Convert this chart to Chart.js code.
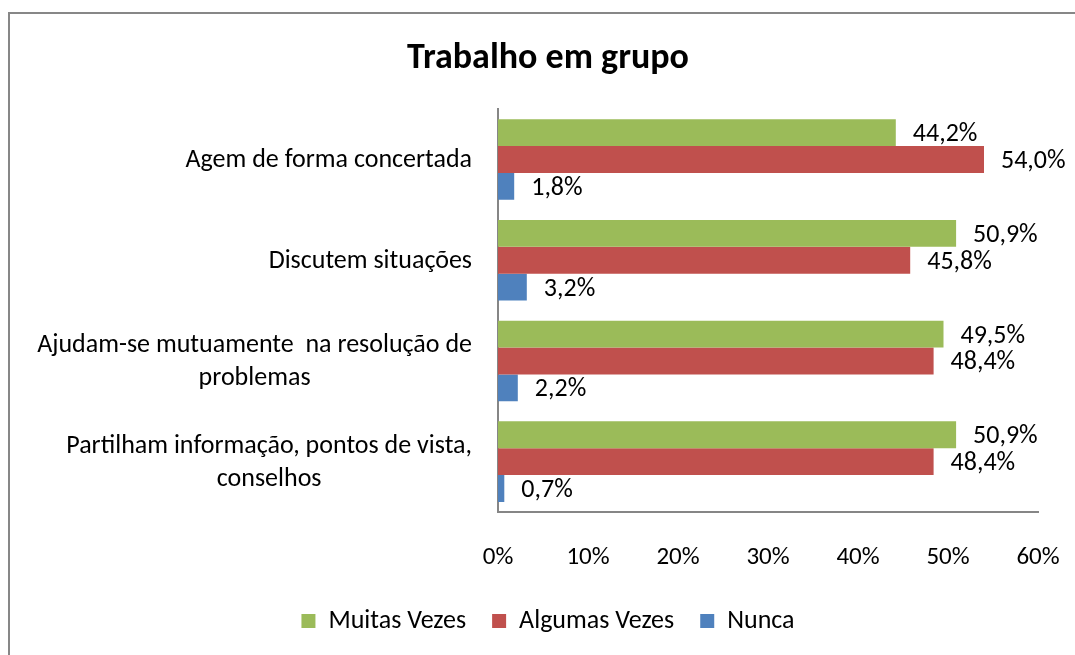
<!DOCTYPE html>
<html lang="pt">
<head>
  <meta charset="UTF-8">
  <title>Trabalho em grupo</title>
  <script src="https://cdn.jsdelivr.net/npm/chart.js"></script>
  <style>
    body { margin: 0; background: #fff; overflow: hidden; }
    #wrap { position: relative; width: 1075px; height: 655px; }
    #frame { position: absolute; left: 8px; top: 12px; width: 1100px; height: 700px; border: 2px solid #878787; box-sizing: border-box; pointer-events: none; }
    canvas { position: absolute; left: 0; top: 0; }
  </style>
</head>
<body>
  <div id="wrap">
    <canvas id="chart" width="1075" height="655"></canvas>
    <div id="frame"></div>
  </div>

  <script>
    const categories = [
      ['Agem de forma concertada'],
      ['Discutem situações'],
      ['Ajudam-se mutuamente  na resolução de', 'problemas'],
      ['Partilham informação, pontos de vista,', 'conselhos']
    ];
    const seriesNames = ['Muitas Vezes', 'Algumas Vezes', 'Nunca'];
    const muitasVezes = [44.2, 50.9, 49.5, 50.9];
    const algumasVezes = [54.0, 45.8, 48.4, 48.4];
    const nunca = [1.8, 3.2, 2.2, 0.7];
    const xTicks = [0, 10, 20, 30, 40, 50, 60];

    const FONT = 'Carlito, Lato, sans-serif';
    Chart.defaults.font.family = FONT;
    Chart.defaults.color = '#000';

    const pct = v => v.toFixed(1).replace('.', ',') + '%';

    // value labels to the right of each bar
    const barLabels = {
      id: 'barLabels',
      afterDatasetsDraw(chart) {
        const ctx = chart.ctx;
        ctx.save();
        ctx.font = '26px ' + FONT;
        ctx.fillStyle = '#000';
        ctx.textAlign = 'left';
        ctx.textBaseline = 'middle';
        chart.data.datasets.forEach((ds, i) => {
          chart.getDatasetMeta(i).data.forEach((bar, j) => {
            ctx.fillText(pct(ds.data[j]), bar.x + 17, bar.y + 2);
          });
        });
        ctx.restore();
      }
    };

    // category labels: block right-aligned, lines centred inside the block
    const catLabels = {
      id: 'catLabels',
      afterDraw(chart) {
        const ctx = chart.ctx;
        const scale = chart.scales.y;
        const lh = 33;
        ctx.save();
        ctx.font = '26px ' + FONT;
        ctx.fillStyle = '#000';
        ctx.textAlign = 'center';
        ctx.textBaseline = 'middle';
        categories.forEach((lines, i) => {
          const yc = scale.getPixelForTick(i) + 1;
          const w = Math.max(...lines.map(l => ctx.measureText(l).width));
          const xc = scale.right - 26 - w / 2;
          lines.forEach((l, k) => {
            ctx.fillText(l, xc, yc + (k - (lines.length - 1) / 2) * lh);
          });
        });
        ctx.restore();
      }
    };

    new Chart(document.getElementById('chart'), {
      type: 'bar',
      data: {
        labels: categories,
        datasets: [
          { label: seriesNames[0], data: muitasVezes, backgroundColor: '#9BBB59' },
          { label: seriesNames[1], data: algumasVezes, backgroundColor: '#C0504D' },
          { label: seriesNames[2], data: nunca, backgroundColor: '#4F81BD' }
        ]
      },
      options: {
        indexAxis: 'y',
        responsive: false,
        animation: false,
        devicePixelRatio: 1,
        categoryPercentage: 0.8,
        barPercentage: 1.0,
        layout: { padding: { left: 21, right: 0, top: 0, bottom: 11 } },
        plugins: {
          title: {
            display: true,
            text: 'Trabalho em grupo',
            font: { size: 36, weight: 'bold' },
            color: '#000',
            padding: { top: 37, bottom: 29 }
          },
          legend: {
            position: 'bottom',
            labels: { boxWidth: 14, boxHeight: 14, padding: 26, font: { size: 26 }, color: '#000' }
          },
          tooltip: { enabled: false }
        },
        scales: {
          x: {
            min: 0,
            max: 60,
            afterBuildTicks(s) { s.ticks = xTicks.map(v => ({ value: v })); },
            afterFit(s) { s.height = 70; s.paddingLeft = 0; s.paddingRight = 0; },
            grid: { display: false, drawTicks: false },
            border: { display: true, color: '#868686', width: 2 },
            ticks: { padding: 31, font: { size: 25 }, color: '#000', callback: v => v + '%' }
          },
          y: {
            afterFit(s) { s.width = 477; },
            grid: { display: false, drawTicks: false },
            border: { display: true, color: '#868686', width: 2 },
            ticks: { display: false }
          },
          pad: {
            type: 'linear',
            position: 'right',
            display: true,
            afterFit(s) { s.width = 37; },
            grid: { display: false, drawTicks: false },
            border: { display: false },
            ticks: { display: false }
          }
        }
      },
      plugins: [barLabels, catLabels]
    });
  </script>
</body>
</html>
